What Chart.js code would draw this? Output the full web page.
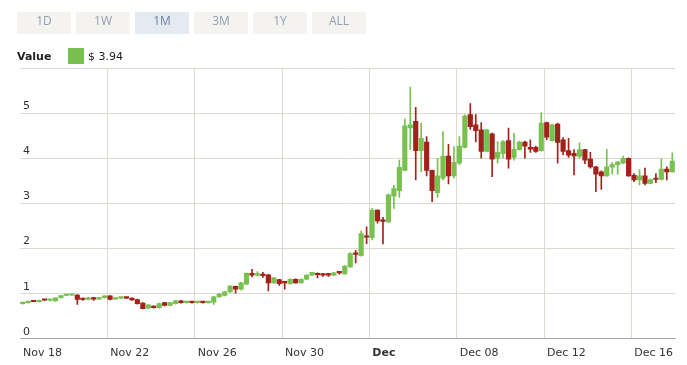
<!DOCTYPE html>
<html>
<head>
<meta charset="utf-8">
<title>Price chart</title>
<script src="https://cdn.jsdelivr.net/npm/chart.js@4.4.1/dist/chart.umd.min.js"></script>
<style>
    html, body { margin: 0; padding: 0; background: #fff; }
    #wrap { position: relative; width: 687px; height: 365px; overflow: hidden; font-family: "DejaVu Sans", Verdana, sans-serif; }
    #chart-box { position: absolute; left: 0; top: 0; width: 687px; height: 374px; }
    .ranges { position: absolute; left: 17px; top: 12px; display: flex; gap: 5px; }
    .ranges span { width: 54px; height: 22px; line-height: 22px; text-align: center; background: #f4f3ef; color: #8f9fb4; font: 12px "Open Sans", sans-serif; }
    .ranges span.active { background: #e4eaf2; color: #6f839e; }
    .legend { position: absolute; left: 17px; top: 48px; height: 16px; display: flex; align-items: center; font-size: 11px; color: #222; }
    .legend b { width: 51px; }
    .legend i { display: inline-block; width: 16px; height: 16px; background: #78c150; margin-right: 4px; }
</style>
</head>
<body>
<div id="wrap">
    <div id="chart-box"><canvas id="priceChart"></canvas></div>
    <div class="ranges">
        <span>1D</span><span>1W</span><span class="active">1M</span><span>3M</span><span>1Y</span><span>ALL</span>
    </div>
    <div class="legend"><b>Value</b><i></i><span>$ 3.94</span></div>
</div>
<script>
// 6-hour candles, Nov 18 -> Dec 17 (4 per day)
const openVals = [
    0.78, 0.80, 0.83, 0.82, 0.86, 0.85, 0.84, 0.91, 0.96, 0.965,
    0.97, 0.88, 0.87, 0.90, 0.88, 0.91, 0.95, 0.88, 0.90, 0.905,
    0.90, 0.87, 0.79, 0.68, 0.72, 0.69, 0.80, 0.74, 0.78, 0.84,
    0.80, 0.805, 0.80, 0.805, 0.80, 0.81, 0.93, 0.96, 1.04, 1.16,
    1.10, 1.21, 1.45, 1.41, 1.42, 1.42, 1.24, 1.31, 1.25, 1.22,
    1.32, 1.24, 1.32, 1.41, 1.45, 1.42, 1.42, 1.41, 1.47, 1.44,
    1.59, 1.90, 1.84, 2.27, 2.24, 2.85, 2.62, 2.59, 3.16, 3.28,
    3.73, 4.67, 4.82, 4.17, 4.36, 3.73, 3.24, 3.56, 4.05, 3.61,
    3.89, 4.24, 4.97, 4.74, 4.63, 4.15, 4.54, 4.00, 4.10, 4.39,
    4.02, 4.19, 4.36, 4.24, 4.24, 4.17, 4.79, 4.39, 4.76, 4.41,
    4.17, 4.11, 4.04, 4.19, 3.98, 3.81, 3.70, 3.61, 3.80, 3.86,
    3.89, 4.00, 3.62, 3.52, 3.61, 3.44, 3.54, 3.53, 3.76, 3.70
];
const highVals = [
    0.80, 0.82, 0.83, 0.86, 0.87, 0.86, 0.91, 0.96, 0.97, 0.99,
    0.98, 0.90, 0.92, 0.92, 0.92, 0.96, 0.96, 0.91, 0.91, 0.91,
    0.91, 0.88, 0.80, 0.76, 0.73, 0.79, 0.81, 0.81, 0.85, 0.85,
    0.81, 0.81, 0.81, 0.81, 0.83, 0.94, 1.00, 1.05, 1.18, 1.17,
    1.25, 1.46, 1.54, 1.49, 1.47, 1.43, 1.36, 1.32, 1.26, 1.33,
    1.33, 1.33, 1.42, 1.48, 1.46, 1.45, 1.45, 1.47, 1.49, 1.62,
    1.91, 1.96, 2.39, 2.48, 2.89, 2.86, 2.69, 3.21, 3.40, 3.96,
    4.87, 5.58, 5.13, 4.78, 4.48, 3.74, 4.00, 4.59, 4.31, 4.26,
    4.48, 4.96, 5.21, 4.97, 4.79, 4.64, 4.56, 4.37, 4.39, 4.67,
    4.56, 4.38, 4.38, 4.41, 4.27, 5.01, 4.80, 4.75, 4.78, 4.46,
    4.44, 4.19, 4.34, 4.20, 4.13, 3.82, 3.72, 4.20, 3.91, 3.93,
    4.05, 4.01, 3.66, 3.75, 3.78, 3.54, 3.66, 3.99, 3.81, 4.12
];
const lowVals = [
    0.77, 0.79, 0.82, 0.81, 0.85, 0.84, 0.83, 0.90, 0.95, 0.96,
    0.76, 0.85, 0.86, 0.85, 0.87, 0.90, 0.86, 0.87, 0.89, 0.89,
    0.85, 0.77, 0.66, 0.67, 0.68, 0.68, 0.73, 0.73, 0.77, 0.79,
    0.79, 0.79, 0.79, 0.79, 0.79, 0.76, 0.92, 0.95, 1.03, 1.01,
    1.08, 1.20, 1.37, 1.39, 1.36, 1.06, 1.23, 1.18, 1.10, 1.21,
    1.23, 1.23, 1.31, 1.40, 1.35, 1.38, 1.38, 1.40, 1.43, 1.43,
    1.58, 1.68, 1.83, 2.11, 2.19, 2.56, 2.10, 2.58, 2.89, 3.13,
    3.72, 4.19, 3.52, 3.70, 3.61, 3.04, 3.13, 3.52, 3.43, 3.56,
    3.86, 4.23, 4.64, 4.36, 4.00, 4.14, 3.59, 3.89, 4.00, 3.78,
    3.96, 4.18, 4.00, 4.13, 4.13, 4.16, 4.41, 4.38, 3.89, 4.08,
    4.02, 3.63, 4.00, 3.88, 3.78, 3.26, 3.31, 3.60, 3.65, 3.65,
    3.88, 3.60, 3.48, 3.41, 3.41, 3.43, 3.46, 3.52, 3.52, 3.69
];
const closeVals = [
    0.80, 0.81, 0.82, 0.85, 0.855, 0.855, 0.91, 0.96, 0.965, 0.97,
    0.87, 0.87, 0.91, 0.88, 0.91, 0.95, 0.87, 0.90, 0.905, 0.90,
    0.86, 0.78, 0.67, 0.75, 0.69, 0.78, 0.74, 0.80, 0.84, 0.80,
    0.805, 0.80, 0.805, 0.80, 0.83, 0.93, 0.99, 1.04, 1.17, 1.10,
    1.24, 1.45, 1.41, 1.42, 1.40, 1.24, 1.35, 1.22, 1.24, 1.32,
    1.24, 1.32, 1.41, 1.47, 1.42, 1.41, 1.41, 1.46, 1.46, 1.61,
    1.89, 1.87, 2.33, 2.25, 2.85, 2.61, 2.60, 3.19, 3.33, 3.80,
    4.72, 4.74, 4.17, 4.44, 3.73, 3.28, 3.61, 4.05, 3.61, 3.91,
    4.27, 4.94, 4.70, 4.61, 4.15, 4.63, 3.98, 4.13, 4.37, 3.98,
    4.20, 4.36, 4.27, 4.20, 4.15, 4.78, 4.47, 4.74, 4.35, 4.15,
    4.07, 4.05, 4.19, 3.96, 3.81, 3.65, 3.61, 3.81, 3.86, 3.92,
    4.00, 3.61, 3.52, 3.61, 3.44, 3.53, 3.53, 3.76, 3.70, 3.94
];

// x axis ticks, in candle units (4 candles per day)
const tickPositions = [0, 16, 32, 48, 64, 80, 96, 112];
const tickLabels = ['Nov 18', 'Nov 22', 'Nov 26', 'Nov 30', 'Dec', 'Dec 08', 'Dec 12', 'Dec 16'];

const UP = '#78c150';
const DOWN = '#a2211b';
const GRID = '#ddd9cf';

const candleColors = closeVals.map((c, i) => c >= openVals[i] ? UP : DOWN);
const bodies = openVals.map((o, i) => ({ x: i + 0.5, y: [o, closeVals[i]] }));
const wicks = lowVals.map((l, i) => ({ x: i + 0.5, y: [l, highVals[i]] }));

const ctx = document.getElementById('priceChart').getContext('2d');
new Chart(ctx, {
    type: 'bar',
    data: {
        datasets: [
            {
                label: 'Body',
                data: bodies,
                backgroundColor: candleColors,
                barThickness: 4.5,
                minBarLength: 1.5,
                grouped: false
            },
            {
                label: 'Wick',
                data: wicks,
                backgroundColor: candleColors,
                barThickness: 1,
                grouped: false
            }
        ]
    },
    options: {
        responsive: true,
        maintainAspectRatio: false,
        animation: false,
        layout: { padding: { left: 14, right: 12, top: 68, bottom: 6 } },
        plugins: {
            legend: { display: false },
            tooltip: { enabled: false }
        },
        scales: {
            x: {
                type: 'linear',
                min: 0,
                max: 120,
                offset: false,
                afterBuildTicks: (scale) => {
                    scale.ticks = tickPositions.map(v => ({ value: v }));
                },
                grid: {
                    offset: false,
                    drawTicks: false,
                    color: (c) => (c.tick && c.tick.value === 0) ? 'rgba(0,0,0,0)' : GRID
                },
                border: { display: true, color: '#a8a8a8' },
                ticks: {
                    align: 'start',
                    labelOffset: 3,
                    padding: 8,
                    maxRotation: 0,
                    autoSkip: false,
                    color: '#333',
                    font: (c) => ({
                        family: 'DejaVu Sans',
                        size: 11,
                        weight: (c.tick && c.tick.value === 64) ? 'bold' : 'normal'
                    }),
                    callback: (v) => tickLabels[tickPositions.indexOf(v)]
                }
            },
            y: {
                min: 0,
                max: 6,
                grid: {
                    drawTicks: false,
                    color: (c) => (c.tick && c.tick.value === 0) ? '#a8a8a8' : GRID
                },
                border: { display: false },
                ticks: {
                    stepSize: 1,
                    mirror: true,
                    padding: 3,
                    labelOffset: -7,
                    color: '#333',
                    font: { family: 'DejaVu Sans', size: 11 },
                    callback: (v) => v === 6 ? '' : v
                }
            }
        }
    }
});
</script>
</body>
</html>
